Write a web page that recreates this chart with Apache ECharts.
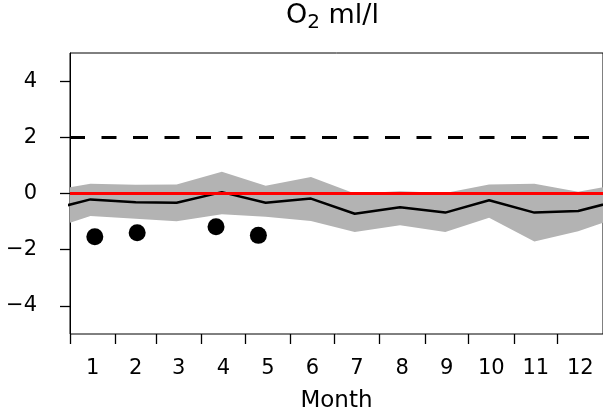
<!DOCTYPE html>
<html>
<head>
<meta charset="utf-8">
<script src="https://cdn.jsdelivr.net/npm/echarts@6/dist/echarts.min.js"></script>
<style>
  html, body { margin: 0; padding: 0; background: #fff; }
  #chart { width: 603px; height: 418px; }
</style>
</head>
<body>
<div id="chart"></div>
<script>
// day of year for each monthly value (15th of month)
var monthDays = [14, 45, 73, 104, 134, 165, 195, 226, 257, 287, 318, 348];
// month starts (ticks) and mid-month (labels)
var monthStarts = [0, 31, 59, 90, 120, 151, 181, 212, 243, 273, 304, 334];
var monthMid = [15.5, 45, 74.5, 105, 135.5, 166, 196.5, 227.5, 258, 288.5, 319, 349.5];
var monthLabels = ["1", "2", "3", "4", "5", "6", "7", "8", "9", "10", "11", "12"];

// monthly mean and spread (grey band)
var meanVals = [-0.21, -0.31, -0.33, 0.05, -0.33, -0.18, -0.72, -0.49, -0.68, -0.24, -0.68, -0.62];
var upperVals = [0.35, 0.31, 0.32, 0.77, 0.28, 0.59, 0.0, 0.08, 0.02, 0.32, 0.35, 0.06];
var lowerVals = [-0.80, -0.90, -0.99, -0.74, -0.83, -0.98, -1.37, -1.13, -1.37, -0.86, -1.71, -1.34];

// single observations
var obsDays = [17, 46, 100, 129];
var obsVals = [-1.54, -1.40, -1.18, -1.49];

var yTicks = [-4, -2, 0, 2, 4];

// wrap the year round so the curves run to both edges
function wrapDays() {
  return [monthDays[11] - 365].concat(monthDays, [monthDays[0] + 365]);
}
function wrapVals(vals) {
  return [vals[11]].concat(vals, [vals[0]]);
}
var dW = wrapDays();
var meanW = wrapVals(meanVals);
var upW = wrapVals(upperVals);
var loW = wrapVals(lowerVals);

var bandData = dW.map(function (d, i) { return [d, loW[i], upW[i]]; });
var meanData = dW.map(function (d, i) { return [d, meanW[i]]; });

var myChart = echarts.init(document.getElementById("chart"));
myChart.setOption({
  animation: false,
  textStyle: { fontFamily: "DejaVu Sans", color: "#000" },
  title: {
    text: "{a|O}{b|2}{a| ml/l}",
    left: 286,
    top: 1,
    padding: 0,
    textStyle: {
      fontWeight: "normal",
      rich: {
        a: { fontFamily: "DejaVu Sans", fontSize: 27, fontWeight: "normal", color: "#000", lineHeight: 30 },
        b: { fontFamily: "DejaVu Sans", fontSize: 20, fontWeight: "normal", color: "#000", lineHeight: 30, padding: [14, 0, 0, 0] },
      },
    },
  },
  grid: {
    left: 70,
    right: -2,
    top: 53,
    bottom: 83,
    show: true,
    borderColor: "#000",
    borderWidth: 1,
  },
  xAxis: [
    {
      // labels + axis title
      type: "value",
      min: 0,
      max: 365,
      splitLine: { show: false },
      axisLine: { show: true, lineStyle: { color: "#000", width: 1 } },
      axisTick: { show: false },
      axisLabel: {
        customValues: monthMid,
        margin: 24,
        fontSize: 21,
        color: "#000",
        formatter: function (v) {
          for (var i = 0; i < monthMid.length; i++) {
            if (Math.abs(monthMid[i] - v) < 0.01) return monthLabels[i];
          }
          return "";
        },
      },
      name: "Month",
      nameLocation: "middle",
      nameGap: 56,
      nameTextStyle: { fontSize: 23, color: "#000" },
    },
    {
      // month boundary ticks
      type: "value",
      position: "bottom",
      min: 0,
      max: 365,
      splitLine: { show: false },
      axisLine: { show: false },
      axisLabel: { show: false },
      axisTick: { show: true, length: 10, customValues: monthStarts, lineStyle: { color: "#000", width: 1.3 } },
    },
  ],
  yAxis: {
    type: "value",
    min: -5,
    max: 5,
    splitLine: { show: false },
    axisLine: { show: true, lineStyle: { color: "#000", width: 1 } },
    axisTick: { show: true, length: 10, customValues: yTicks, lineStyle: { color: "#000", width: 1.3 } },
    axisLabel: {
      customValues: yTicks,
      margin: 33,
      fontSize: 21,
      color: "#000",
      formatter: function (v) {
        return String(v).replace("-", "\u2212");
      },
    },
  },
  series: [
    {
      name: "band",
      type: "custom",
      clip: true,
      data: bandData,
      encode: { x: 0, y: [1, 2] },
      z: 1,
      renderItem: function (params, api) {
        if (params.dataIndex !== 0) return;
        var pts = [];
        for (var i = 0; i < bandData.length; i++) pts.push(api.coord([bandData[i][0], bandData[i][2]]));
        for (var j = bandData.length - 1; j >= 0; j--) pts.push(api.coord([bandData[j][0], bandData[j][1]]));
        return {
          type: "polygon",
          shape: { points: pts },
          style: { fill: "#b3b3b3", stroke: null },
        };
      },
    },
    {
      name: "ref",
      type: "line",
      data: [],
      z: 2,
      markLine: {
        silent: true,
        symbol: "none",
        label: { show: false },
        data: [
          { yAxis: 0, lineStyle: { color: "#ff0000", width: 3, type: "solid" } },
          { yAxis: 2, lineStyle: { color: "#000", width: 3, type: [15, 16.5] } },
        ],
      },
    },
    {
      name: "mean",
      type: "line",
      data: meanData,
      symbol: "none",
      lineStyle: { color: "#000", width: 2.5 },
      z: 3,
    },
    {
      name: "obs",
      type: "scatter",
      data: obsDays.map(function (d, i) { return [d, obsVals[i]]; }),
      symbol: "circle",
      symbolSize: 17,
      itemStyle: { color: "#000", opacity: 1 },
      z: 4,
    },
  ],
});
</script>
</body>
</html>
